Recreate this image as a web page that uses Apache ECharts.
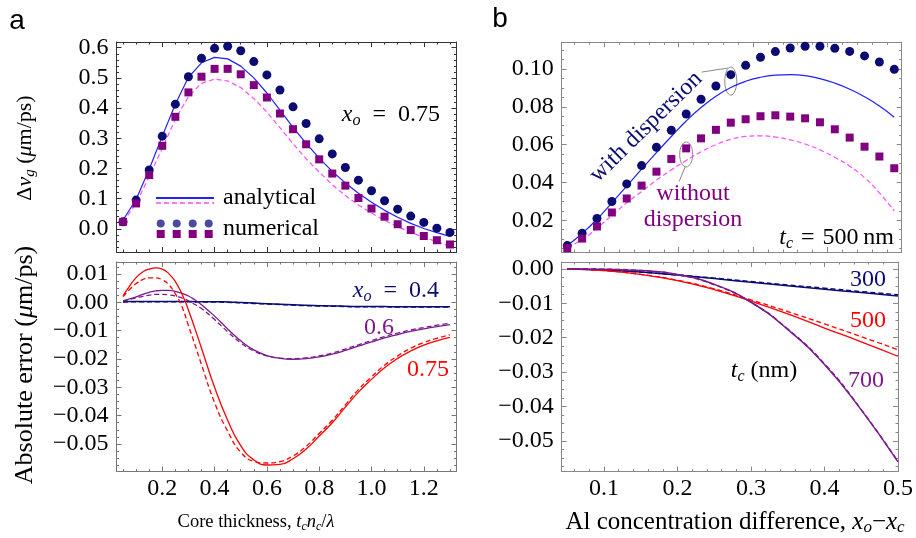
<!DOCTYPE html>
<html>
<head>
<meta charset="utf-8">
<script src="https://cdn.jsdelivr.net/npm/echarts@6/dist/echarts.min.js"></script>
<style>
html,body{margin:0;padding:0;background:#fff}
#main{width:916px;height:538px}
</style>
</head>
<body>
<div id="main"></div>
<script>
// panel a: core thickness t_c n_c / lambda
const thick = [0.05,0.10,0.15,0.20,0.25,0.30,0.35,0.40,0.45,0.50,0.55,0.60,0.65,0.70,0.75,0.80,0.85,0.90,0.95,1.00,1.05,1.10,1.15,1.20,1.25,1.30];
const tlCircle = [0.023,0.095,0.195,0.307,0.413,0.504,0.565,0.598,0.605,0.590,0.554,0.510,0.460,0.404,0.349,0.298,0.248,0.203,0.161,0.126,0.093,0.065,0.042,0.021,0.002,-0.012];
const tlSquare = [0.023,0.084,0.178,0.275,0.371,0.452,0.504,0.530,0.530,0.512,0.476,0.435,0.382,0.330,0.280,0.230,0.183,0.143,0.102,0.067,0.040,0.015,-0.004,-0.024,-0.038,-0.052];
const tlAnalytic = [0.029,0.097,0.197,0.307,0.413,0.502,0.550,0.568,0.563,0.539,0.500,0.450,0.393,0.336,0.283,0.234,0.190,0.152,0.118,0.088,0.061,0.038,0.018,0.001,-0.013,-0.025];
const tlAnalyticNoDisp = [0.023,0.084,0.173,0.267,0.363,0.438,0.482,0.496,0.490,0.468,0.432,0.387,0.335,0.282,0.232,0.188,0.146,0.110,0.079,0.052,0.028,0.007,-0.012,-0.028,-0.043,-0.057];

// absolute error, x_o = 0.4 / 0.6 / 0.75 (solid = with dispersion, dashed = without)
const thickErr = [0.05,0.075,0.10,0.125,0.15,0.175,0.20,0.225,0.25,0.275,0.30,0.325,0.35,0.40,0.45,0.50,0.55,0.60,0.65,0.70,0.75,0.80,0.85,0.90,0.95,1.00,1.05,1.10,1.15,1.20,1.25,1.30];
const err04 = [0.0002,0.0003,0.0003,0.0003,0.0003,0.0003,0.0003,0.0003,0.0003,0.0003,0.0003,0.0002,0.0002,0.0002,0.0001,-0.0001,-0.0003,-0.0005,-0.0007,-0.0009,-0.0011,-0.0012,-0.0013,-0.0014,-0.0015,-0.0015,-0.0015,-0.0016,-0.0016,-0.0016,-0.0016,-0.0016];
const err04d = [0.0001,0.0002,0.0002,0.0002,0.0002,0.0002,0.0002,0.0002,0.0002,0.0002,0.0002,0.0001,0.0001,0.0001,0.0000,-0.0002,-0.0004,-0.0006,-0.0008,-0.0010,-0.0012,-0.0013,-0.0014,-0.0015,-0.0016,-0.0016,-0.0016,-0.0017,-0.0017,-0.0017,-0.0017,-0.0017];
const err06 = [0.0005,0.0012,0.0019,0.0028,0.0035,0.0040,0.0042,0.0042,0.0038,0.0031,0.0022,0.0008,-0.0009,-0.0049,-0.0094,-0.0136,-0.0168,-0.0188,-0.0198,-0.0201,-0.0199,-0.0193,-0.0183,-0.0170,-0.0155,-0.0140,-0.0126,-0.0114,-0.0103,-0.0094,-0.0086,-0.0079];
const err06d = [0.0004,0.0010,0.0015,0.0021,0.0025,0.0028,0.0028,0.0026,0.0022,0.0015,0.0005,-0.0008,-0.0022,-0.0061,-0.0104,-0.0143,-0.0172,-0.0189,-0.0197,-0.0199,-0.0196,-0.0189,-0.0179,-0.0165,-0.0150,-0.0135,-0.0121,-0.0109,-0.0098,-0.0089,-0.0081,-0.0074];
const err075 = [0.0023,0.0057,0.0087,0.0107,0.0117,0.0121,0.0117,0.0101,0.0073,0.0030,-0.0027,-0.0093,-0.0162,-0.0300,-0.0416,-0.0506,-0.0556,-0.0574,-0.0572,-0.0552,-0.0518,-0.0472,-0.0425,-0.0370,-0.0317,-0.0272,-0.0231,-0.0198,-0.0172,-0.0151,-0.0136,-0.0124];
const err075d = [0.0020,0.0045,0.0066,0.0080,0.0086,0.0086,0.0079,0.0062,0.0030,-0.0015,-0.0082,-0.0150,-0.0220,-0.0354,-0.0455,-0.0529,-0.0561,-0.0567,-0.0562,-0.0542,-0.0508,-0.0463,-0.0416,-0.0362,-0.0308,-0.0263,-0.0222,-0.0189,-0.0162,-0.0142,-0.0127,-0.0115];

// panel b: Al concentration difference x_o - x_c
const conc = [0.05,0.07,0.09,0.11,0.13,0.15,0.17,0.19,0.21,0.23,0.25,0.27,0.29,0.31,0.33,0.35,0.37,0.39,0.41,0.43,0.45,0.47,0.49];
const trCircle = [0.0066,0.0131,0.0209,0.0299,0.0392,0.0489,0.0586,0.0676,0.0762,0.0840,0.0910,0.0970,0.1019,0.1062,0.1092,0.1111,0.1120,0.1120,0.1109,0.1093,0.1069,0.1037,0.0998];
const trSquare = [0.0052,0.0103,0.0167,0.0241,0.0315,0.0383,0.0457,0.0524,0.0580,0.0633,0.0678,0.0716,0.0734,0.0750,0.0755,0.0748,0.0739,0.0718,0.0681,0.0637,0.0589,0.0537,0.0475];
const trAnalytic = [0.0066,0.0130,0.0205,0.0292,0.0380,0.0470,0.0558,0.0643,0.0725,0.0796,0.0856,0.0902,0.0935,0.0956,0.0967,0.0970,0.0965,0.0949,0.0925,0.0893,0.0853,0.0804,0.0745];
const trAnalyticNoDisp = [0.0058,0.0097,0.0158,0.0225,0.0292,0.0352,0.0412,0.0466,0.0516,0.0562,0.0600,0.0628,0.0643,0.0646,0.0640,0.0625,0.0603,0.0572,0.0533,0.0486,0.0425,0.0345,0.0250];

// absolute error vs concentration, t_c = 300 / 500 / 700 nm
const concB = [0.05,0.10,0.15,0.20,0.25,0.30,0.35,0.40,0.45,0.50];
const err300 = [0,-0.0003,-0.0009,-0.0018,-0.0028,-0.0039,-0.0049,-0.0059,-0.0069,-0.0079];
const err300d = [0,-0.0003,-0.0009,-0.0018,-0.0027,-0.0037,-0.0047,-0.0056,-0.0066,-0.0075];
const err500 = [0,-0.0005,-0.0016,-0.0034,-0.0060,-0.0094,-0.0131,-0.0172,-0.0212,-0.0254];
const err500d = [0,-0.0005,-0.0016,-0.0033,-0.0058,-0.0090,-0.0124,-0.0160,-0.0197,-0.0235];
const err700 = [0,-0.0001,-0.0005,-0.0016,-0.0045,-0.0097,-0.0176,-0.0278,-0.0410,-0.0561];
const err700d = [0,-0.0001,-0.0005,-0.0017,-0.0046,-0.0097,-0.0175,-0.0276,-0.0409,-0.0560];

// tick labels
const thickTicks = [0.2,0.4,0.6,0.8,1.0,1.2];
const concTicks = [0.1,0.2,0.3,0.4,0.5];
const tlTicks = [0,0.1,0.2,0.3,0.4,0.5,0.6];
const blTicks = [-0.05,-0.04,-0.03,-0.02,-0.01,0,0.01];
const trTicks = [0.02,0.04,0.06,0.08,0.10];
const brTicks = [-0.05,-0.04,-0.03,-0.02,-0.01,0];

const serif = 'Liberation Serif';
const TICK = 24;
const NAVY = '#0b0b72', PURPLE = '#800080', BLUE = '#1f1fff', MAGENTA = '#ff4dff', RED = '#ff0000', DPURPLE = '#7a1a8c';

function steps(a, b, s) {
  const out = [];
  for (let v = a; v <= b + s / 2; v += s) out.push(Math.round(v * 1e6) / 1e6);
  return out;
}
function fmt(d) {
  return v => (v < 0 ? '\u2212' : '') + Math.abs(v).toFixed(d);
}
function axes(dim, gi, min, max, major, minor, col, d, labels) {
  const pos = dim === 'x' ? ['bottom', 'top'] : ['left', 'right'];
  const out = [];
  pos.forEach((p, k) => {
    const base = {type: 'value', gridIndex: gi, min: min, max: max, position: p,
      splitLine: {show: false}, axisPointer: {show: false}};
    out.push(Object.assign({}, base, {
      axisLine: {show: true, onZero: false, lineStyle: {color: col, width: 1}},
      axisTick: {show: true, inside: true, length: 5, customValues: major, lineStyle: {color: col}},
      axisLabel: {show: labels && k === 0, customValues: major, formatter: fmt(d),
        margin: dim === 'x' ? 5 : 8, fontFamily: serif, fontSize: TICK, color: '#000'}
    }));
    out.push(Object.assign({}, base, {
      axisLine: {show: false, onZero: false},
      axisTick: {show: true, inside: true, length: 2.5, customValues: minor, lineStyle: {color: col}},
      axisLabel: {show: false}
    }));
  });
  return out;
}
function pts(xs, ys) { return xs.map((x, i) => [x, ys[i]]); }
function line(gi, xs, ys, color, dashed, w, smooth) {
  return {type: 'line', xAxisIndex: gi * 4, yAxisIndex: gi * 4, data: pts(xs, ys),
    showSymbol: false, smooth: smooth, silent: true,
    lineStyle: {color: color, width: w, type: dashed ? [5, 3] : 'solid'}};
}
function dots(gi, xs, ys, color, symbol, size) {
  return {type: 'scatter', xAxisIndex: gi * 4, yAxisIndex: gi * 4, data: pts(xs, ys),
    symbol: symbol, symbolSize: size, itemStyle: {color: color, opacity: 1}, silent: true, z: 3};
}

const xAxis = [].concat(
  axes('x', 0, 0.025, 1.325, thickTicks, steps(0.05, 1.3, 0.05), '#333', 1, false),
  axes('x', 1, 0.025, 1.325, thickTicks, steps(0.05, 1.3, 0.05), '#777', 1, true),
  axes('x', 2, 0.0425, 0.5, concTicks, steps(0.06, 0.5, 0.02), '#888', 1, false),
  axes('x', 3, 0.0425, 0.5, concTicks, steps(0.06, 0.5, 0.02), '#888', 1, true)
);
const yAxis = [].concat(
  axes('y', 0, -0.077, 0.619, tlTicks, steps(-0.06, 0.6, 0.02), '#333', 1, true),
  axes('y', 1, -0.0597, 0.0142, blTicks, steps(-0.0575, 0.0125, 0.0025), '#777', 2, true),
  axes('y', 2, 0.0032, 0.1141, trTicks, steps(0.005, 0.11, 0.005), '#888', 2, true),
  axes('y', 3, -0.0589, 0.002, brTicks, steps(-0.0575, 0, 0.0025), '#888', 2, true)
);

// rich text: n = upright, i = italic, s = italic subscript
function richText(x, y, str, color, size, align, rot) {
  const sub = Math.round(size * 0.66);
  const r = {
    n: {fontFamily: serif, fontSize: size, lineHeight: size + 4, fill: color},
    i: {fontFamily: serif, fontSize: size, lineHeight: size + 4, fontStyle: 'italic', fill: color},
    s: {fontFamily: serif, fontSize: sub, lineHeight: size * 0.6, fontStyle: 'italic', verticalAlign: 'bottom', fill: color}
  };
  return {type: 'text', x: x, y: y, silent: true, rotation: rot || 0,
    style: {text: str, rich: r, fill: color, align: align || 'center', verticalAlign: 'middle',
      fontFamily: serif, fontSize: size}};
}

const option = {
  animation: false,
  backgroundColor: '#fff',
  grid: [
    {left: 116.5, top: 42, width: 340, height: 210},
    {left: 116.5, top: 262, width: 340, height: 209.5},
    {left: 561.7, top: 42.3, width: 340, height: 209.7},
    {left: 561.7, top: 262, width: 340, height: 209.5}
  ],
  xAxis: xAxis,
  yAxis: yAxis,
  series: [
    line(0, thick, tlAnalytic, BLUE, false, 1.2, false),
    line(0, thick, tlAnalyticNoDisp, MAGENTA, true, 1.2, false),
    dots(0, thick, tlCircle, NAVY, 'circle', 9),
    dots(0, thick, tlSquare, PURPLE, 'rect', 8),

    line(1, thickErr, err04, NAVY, false, 1.5, true),
    line(1, thickErr, err04d, NAVY, true, 1.5, true),
    line(1, thickErr, err06, DPURPLE, false, 1.3, true),
    line(1, thickErr, err06d, DPURPLE, true, 1.3, true),
    line(1, thickErr, err075, RED, false, 1.3, true),
    line(1, thickErr, err075d, RED, true, 1.3, true),

    line(2, conc, trAnalytic, BLUE, false, 1.2, true),
    line(2, conc, trAnalyticNoDisp, MAGENTA, true, 1.2, true),
    dots(2, conc, trCircle, NAVY, 'circle', 9),
    dots(2, conc, trSquare, PURPLE, 'rect', 8),

    line(3, concB, err300, NAVY, false, 1.5, true),
    line(3, concB, err300d, NAVY, true, 1.5, true),
    line(3, concB, err500, RED, false, 1.3, true),
    line(3, concB, err500d, RED, true, 1.3, true),
    line(3, concB, err700, DPURPLE, false, 1.5, true),
    line(3, concB, err700d, DPURPLE, true, 1.5, true)
  ]
};

const chart = echarts.init(document.getElementById('main'));
chart.setOption(option);

// callout ellipses placed from the data they point at
const cWith = chart.convertToPixel({gridIndex: 2}, [conc[11], (trCircle[11] + trAnalytic[11]) / 2]);
const cWithout = chart.convertToPixel({gridIndex: 2}, [conc[8], (trSquare[8] + trAnalyticNoDisp[8]) / 2]);

const EN = '\u2002', TH = '\u2004';
const graphics = [
  {type: 'text', x: 17, y: 21, silent: true, style: {text: 'a', fontFamily: 'Liberation Sans', fontSize: 28, fill: '#000', align: 'center', verticalAlign: 'middle'}},
  {type: 'text', x: 500, y: 19, silent: true, style: {text: 'b', fontFamily: 'Liberation Sans', fontSize: 28, fill: '#000', align: 'center', verticalAlign: 'middle'}},

  // axis titles
  richText(25, 148, '{n|\u0394}{i|v}{s|g}{n| (}{i|\u03bc}{n|m/ps)}', '#000', 22, 'center', Math.PI / 2),
  richText(25, 365, '{n|Absolute error (}{i|\u03bc}{n|m/ps)}', '#000', 26, 'center', Math.PI / 2),
  richText(256, 522, '{n|Core thickness, }{i|t}{s|c}{i|n}{s|c}{n|/}{i|\u03bb}', '#000', 18.5),
  richText(735, 522, '{n|Al concentration difference, }{i|x}{s|o}{n|\u2212}{i|x}{s|c}', '#000', 25),

  // panel annotations
  richText(440, 115, '{i|x}{s|o}{n|' + EN + '=' + EN + '0.75}', '#000', 24, 'right'),
  richText(439, 291, '{i|x}{s|o}{n|' + EN + '=' + EN + '0.4}', NAVY, 24, 'right'),
  richText(379, 328, '{n|0.6}', DPURPLE, 24),
  richText(428, 370, '{n|0.75}', RED, 24),
  richText(894, 238, '{i|t}{s|c}{n|' + TH + '=' + TH + '500\u2009nm}', '#000', 24, 'right'),
  richText(868, 280, '{n|300}', NAVY, 24),
  richText(868, 321, '{n|500}', RED, 24),
  richText(764, 371, '{i|t}{s|c}{n| (nm)}', '#000', 24),
  richText(866, 381, '{n|700}', DPURPLE, 24),
  richText(646, 127, '{n|with dispersion}', NAVY, 24, 'center', Math.PI / 4 - 0.01),
  richText(693, 194, '{n|without}', PURPLE, 24),
  richText(693, 220, '{n|dispersion}', PURPLE, 24),

  // callouts
  {type: 'ellipse', silent: true, shape: {cx: cWith[0], cy: cWith[1], rx: 6, ry: 14}, style: {fill: 'none', stroke: '#888', lineWidth: 1}},
  {type: 'line', silent: true, shape: {x1: cWith[0] - 3, y1: cWith[1] - 13, x2: cWith[0] - 29, y2: cWith[1] - 9}, style: {stroke: '#888', lineWidth: 1}},
  {type: 'ellipse', silent: true, shape: {cx: cWithout[0], cy: cWithout[1], rx: 6.5, ry: 12.5}, style: {fill: 'none', stroke: '#888', lineWidth: 1}},
  {type: 'line', silent: true, shape: {x1: cWithout[0] - 1, y1: cWithout[1] + 12.5, x2: cWithout[0] - 7, y2: cWithout[1] + 27}, style: {stroke: '#888', lineWidth: 1}},

  // legend of panel a
  {type: 'line', silent: true, shape: {x1: 156, y1: 198, x2: 214, y2: 198}, style: {stroke: BLUE, lineWidth: 2}},
  {type: 'line', silent: true, shape: {x1: 156, y1: 203, x2: 214, y2: 203}, style: {stroke: MAGENTA, lineWidth: 1.5, lineDash: [5, 3]}},
  {type: 'text', x: 223, y: 198, silent: true, style: {text: 'analytical', fontFamily: serif, fontSize: 24, fill: '#000', verticalAlign: 'middle'}},
  {type: 'text', x: 223, y: 229, silent: true, style: {text: 'numerical', fontFamily: serif, fontSize: 24, fill: '#000', verticalAlign: 'middle'}}
];
[160.7, 176.7, 192.7, 208.7].forEach(x => {
  graphics.push({type: 'circle', silent: true, shape: {cx: x, cy: 223.5, r: 4}, style: {fill: '#4b4b9e'}});
  graphics.push({type: 'rect', silent: true, shape: {x: x - 4, y: 230, width: 8, height: 8}, style: {fill: PURPLE}});
});
chart.setOption({graphic: graphics});
</script>
</body>
</html>
